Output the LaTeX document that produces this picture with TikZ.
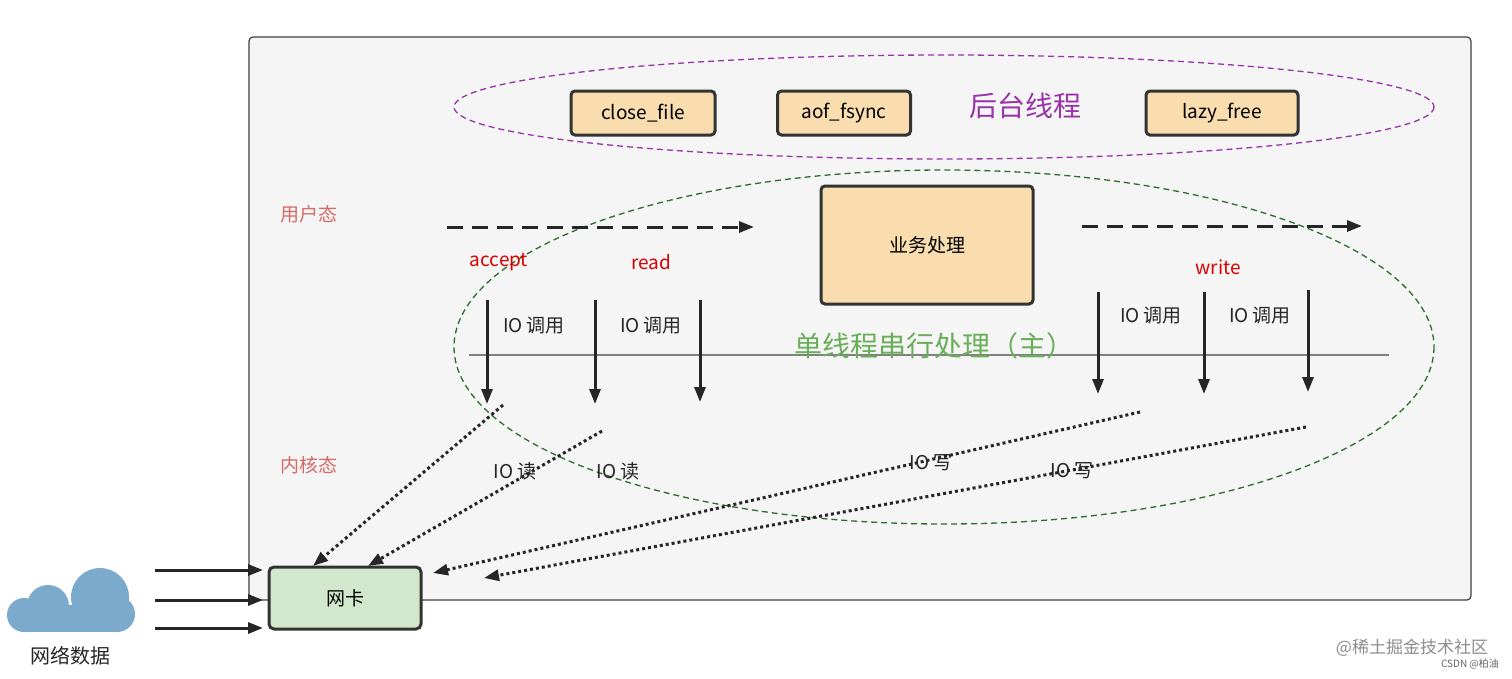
\documentclass[tikz,border=0pt]{standalone}
\usepackage{fontspec}
\setmainfont{Noto Sans CJK SC}
\usetikzlibrary{arrows.meta}
\definecolor{bgc}{HTML}{F5F5F5}
\definecolor{boxo}{HTML}{F9DDAE}
\definecolor{boxg}{HTML}{D2E8CC}
\definecolor{purp}{HTML}{9933AA}
\definecolor{dgreen}{HTML}{2E6B2E}
\definecolor{lgreen}{HTML}{6AAE5A}
\definecolor{rose}{HTML}{D46A6A}
\definecolor{cloudc}{HTML}{7BAACC}
\begin{document}
\begin{tikzpicture}[x=1pt,y=-1pt,
  ob/.style={draw=black!80,line width=3pt,fill=boxo,rounded corners=4pt,font=\fontsize{19}{22}\selectfont},
  arr/.style={draw=black!85,line width=3pt,-{Triangle[length=15pt,width=11pt]}},
  dsharr/.style={arr,dash pattern=on 16pt off 9pt},
  dot/.style={draw=black!85,line width=3pt,dash pattern=on 3pt off 3pt,-{Triangle[length=15pt,width=11pt]}},
  lbl/.style={font=\fontsize{19}{22}\selectfont,text=black!85},
  rd/.style={font=\fontsize{19}{22}\selectfont,text=red!85!black},
  st/.style={font=\fontsize{19}{22}\selectfont,text=rose}]
\useasboundingbox (0,0) rectangle (1512,678);
\fill[white] (0,0) rectangle (1512,678);
\draw[black!75,line width=1.2pt,fill=bgc,rounded corners=4pt] (249,37) rectangle (1471,600);
\draw[purp,dash pattern=on 6pt off 4pt,line width=1.3pt] (944,107) ellipse [x radius=490,y radius=52];
\node[ob,minimum width=144pt,minimum height=44pt] (cf) at (643,113) {close\_file};
\node[ob,minimum width=133pt,minimum height=44pt] (af) at (844,113) {aof\_fsync};
\node[ob,minimum width=152pt,minimum height=44pt] (lf) at (1222,113) {lazy\_free};
\node[font=\fontsize{28}{32}\selectfont,text=purp] (bt) at (1025,106) {后台线程};
\draw[dgreen,dash pattern=on 6pt off 4pt,line width=1.3pt] (944,347) ellipse [x radius=490,y radius=177];
\node[ob,minimum width=212pt,minimum height=118pt] (yw) at (927,245) {业务处理};
\node[st] (yh) at (309,214) {用户态};
\node[st] (nh) at (309,465) {内核态};
\coordinate (d1a) at (447,227); \coordinate (d1b) at (754,227);
\coordinate (d2a) at (1082,226); \coordinate (d2b) at (1362,226);
\draw[dsharr] (d1a) -- (d1b);
\draw[dsharr] (d2a) -- (d2b);
\node[rd] (ac) at (499,262) {accept};
\node[rd] (rdn) at (651,262) {read};
\node[rd] (wr) at (1218,267) {write};
\draw[gray,line width=1.2pt] (469,355) -- (1389,355);
\node[font=\fontsize{28}{32}\selectfont,text=lgreen] (main) at (934,346) {单线程串行处理（主）};
\foreach \x/\a/\b [count=\i] in {487/300/404,595/300/404,700/300/402,1098/292/394,1204/292/394,1308/290/392}{
  \coordinate (ua\i) at (\x,\a); \coordinate (ub\i) at (\x,\b);
  \draw[arr] (ua\i) -- (ub\i);}
\node[lbl] (c1) at (534,326) {IO 调用};
\node[lbl] (c2) at (651,326) {IO 调用};
\node[lbl] (c3) at (1151,316) {IO 调用};
\node[lbl] (c4) at (1260,316) {IO 调用};
\node[lbl] (r1) at (515,471) {IO 读};
\node[lbl] (r2) at (618,471) {IO 读};
\node[lbl] (w1) at (931,463) {IO 写};
\node[lbl] (w2) at (1072,471) {IO 写};
\node[draw=black!80,line width=3pt,fill=boxg,rounded corners=5pt,minimum width=152pt,minimum height=62pt,font=\fontsize{19}{22}\selectfont] (nc) at (345,598) {网卡};
\coordinate (s1) at (503,405); \coordinate (e1) at (313,566);
\coordinate (s2) at (602,431); \coordinate (e2) at (368,566);
\coordinate (s3) at (1140,412); \coordinate (e3) at (433,573);
\coordinate (s4) at (1306,427); \coordinate (e4) at (484,578);
\foreach \i in {1,2,3,4}{\draw[dot] (s\i) -- (e\i);}
% cloud
\fill[cloudc] (100,597) circle[radius=29] (48,606) circle[radius=21]
  (24,615) circle[radius=17] (117,614) circle[radius=18];
\fill[cloudc] (24,605) rectangle (117,632);
\node[font=\fontsize{20}{24}\selectfont,text=black!85] (wl) at (70,656) {网络数据};
\foreach \y [count=\i] in {570,600,628}{
  \coordinate (la\i) at (155,\y); \coordinate (lb\i) at (263,\y);
  \draw[arr] (la\i) -- (lb\i);}
\node[font=\fontsize{17}{20}\selectfont,text=black!45] (wm1) at (1412,648) {@稀土掘金技术社区};
\node[font=\fontsize{10}{12}\selectfont,text=black!60] (wm2) at (1470,664) {CSDN @柏油};
\end{tikzpicture}
\end{document}
